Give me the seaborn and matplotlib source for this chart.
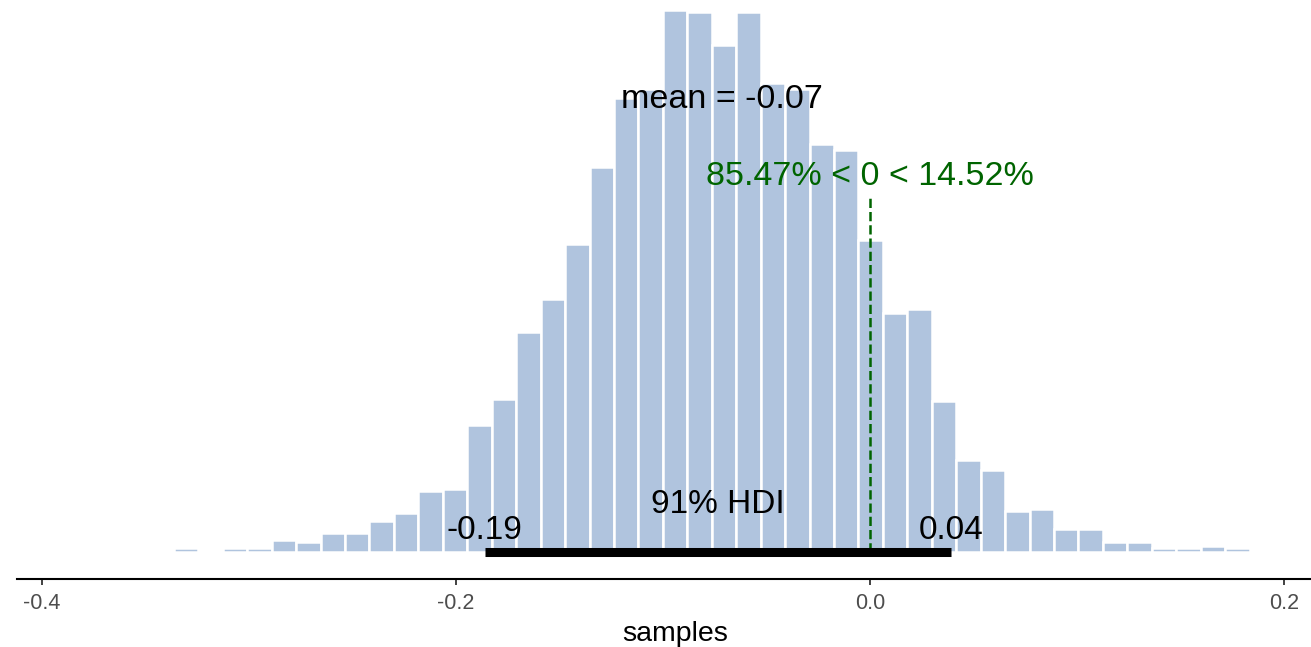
import numpy as np
import pandas as pd
import matplotlib
matplotlib.use("Agg")
import matplotlib.pyplot as plt
import seaborn as sns

# ---- data ----
bin_first_edge = -0.3363
bin_width = 0.011806
counts = [2, 0, 2, 2, 6, 5, 10, 10, 16, 20, 31, 32,
          65, 78, 112, 129, 157, 196, 231, 236, 276, 275, 258, 275,
          239, 236, 208, 205, 159, 122, 124, 77, 47, 42, 21, 22,
          12, 12, 5, 5, 2, 2, 3, 2]
mean_value = -0.0715
ref_value = 0.0
hdi_bounds = [-0.1863, 0.0390]
hdi_label = "91% HDI"
ref_label = "85.47% < 0 < 14.52%"
xticks = [-0.4, -0.2, 0.0, 0.2]
xtick_labels = ["-0.4", "-0.2", "0.0", "0.2"]
xlabel = "samples"

sns.set_theme(style="white")
plt.rcParams["font.family"] = ["Liberation Sans", "DejaVu Sans"]
plt.rcParams["axes.unicode_minus"] = False

edges = bin_first_edge + bin_width * np.arange(len(counts) + 1)
centers = (edges[:-1] + edges[1:]) / 2
df = pd.DataFrame({"samples": centers, "count": counts})

fig = plt.figure(figsize=(13.11, 6.47), dpi=100)
ax = fig.add_axes([16.7 / 1311, (647 - 579) / 647, (1311 - 16.7) / 1311, 579 / 647])

sns.histplot(data=df, x="samples", weights="count", bins=list(edges), ax=ax,
             color="#B0C4DE", edgecolor="white", linewidth=1.8, alpha=1.0)

# HDI bar
ax.plot(hdi_bounds, [0, 0], color="black", lw=6.5, solid_capstyle="butt", zorder=5)
ax.text(np.mean(hdi_bounds), 19.8, hdi_label, ha="center", va="baseline", fontsize=24, color="black")
ax.text(hdi_bounds[0], 6.6, f"{hdi_bounds[0]:.2f}", ha="center", va="baseline", fontsize=24, color="black")
ax.text(hdi_bounds[1], 6.6, f"{hdi_bounds[1]:.2f}", ha="center", va="baseline", fontsize=24, color="black")

# mean
ax.text(mean_value, 226, f"mean = {mean_value:.2f}", ha="center", va="baseline", fontsize=24.5, color="black")

# reference value
ax.plot([ref_value, ref_value], [0, 181.5], color="#006400", lw=1.8, ls="--", zorder=4)
ax.text(ref_value, 187, ref_label, ha="center", va="baseline", fontsize=24.5, color="#006400")

ax.set_xlim(-0.4122, 0.2128)
ax.set_ylim(-13.6, 281.1)
ax.set_xticks(xticks)
ax.set_xticklabels(xtick_labels)
ax.set_yticks([])
ax.set_ylabel("")
ax.set_xlabel(xlabel, fontsize=20.5, color="black", labelpad=5.5)
ax.xaxis.label.set_x(0.5084)
for s in ["left", "right", "top"]:
    ax.spines[s].set_visible(False)
ax.spines["bottom"].set_color("black")
ax.spines["bottom"].set_linewidth(1.5)
ax.tick_params(axis="x", bottom=True, length=4.3, width=1.3, color="#333333",
               labelsize=15.5, labelcolor="#4D4D4D", pad=5.5)
ax.patch.set_alpha(0)

fig.savefig("out.png", dpi=100)
